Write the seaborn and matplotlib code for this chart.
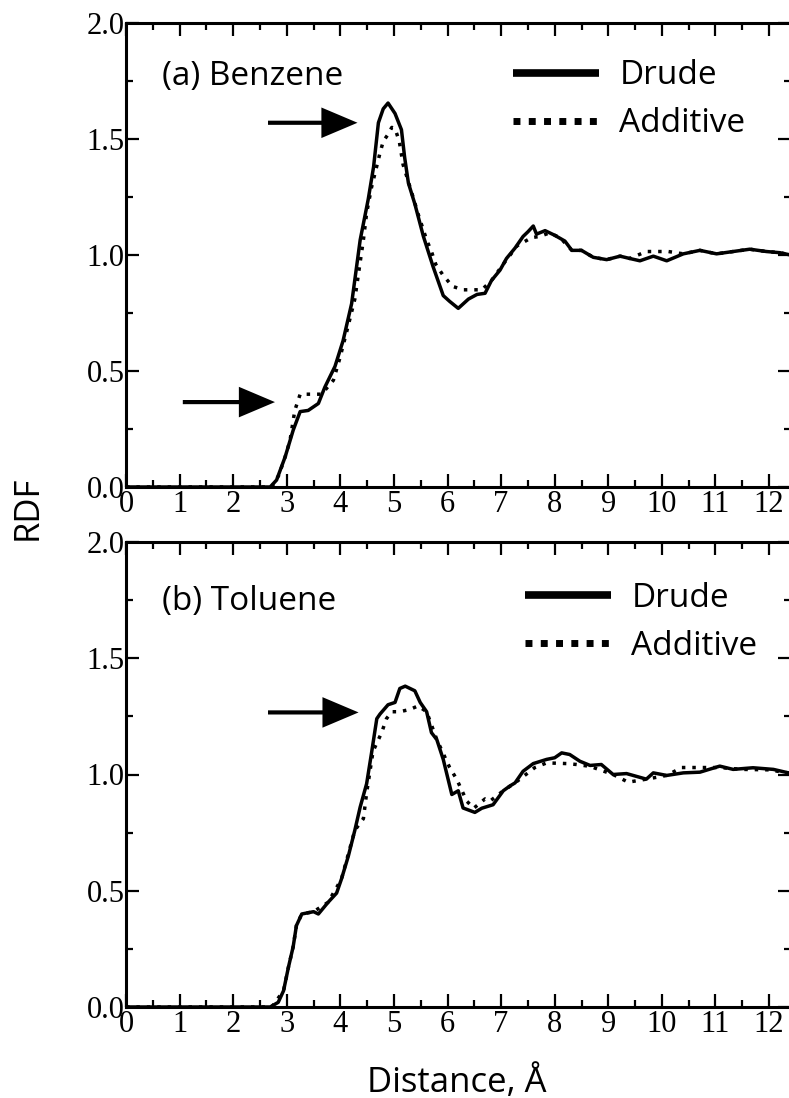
import seaborn as sns
import matplotlib.pyplot as plt
from matplotlib.lines import Line2D
from matplotlib.ticker import MultipleLocator, FormatStrFormatter

# values (distance in angstrom, RDF)
benz_drude_x = [0, 2.69, 2.81, 2.97, 3.12, 3.25, 3.40, 3.59, 3.71, 3.90, 4.05, 4.21, 4.37, 4.52,
                4.62, 4.71, 4.80, 4.89, 5.02, 5.14, 5.20, 5.27, 5.39, 5.55, 5.73, 5.92, 6.04, 6.20,
                6.39, 6.55, 6.70, 6.82, 6.98, 7.10, 7.26, 7.41, 7.50, 7.60, 7.66, 7.82, 8.00, 8.19,
                8.32, 8.50, 8.72, 8.97, 9.22, 9.40, 9.59, 9.84, 10.09, 10.40, 10.71, 11.02, 11.33,
                11.64, 11.95, 12.20, 12.40]
benz_drude_y = [0, 0, 0.03, 0.13, 0.245, 0.325, 0.33, 0.36, 0.43, 0.52, 0.63, 0.79, 1.065, 1.24,
                1.38, 1.57, 1.63, 1.655, 1.61, 1.54, 1.42, 1.31, 1.22, 1.08, 0.95, 0.825, 0.80, 0.77,
                0.81, 0.83, 0.835, 0.89, 0.935, 0.985, 1.03, 1.08, 1.10, 1.125, 1.09, 1.105, 1.085, 1.06,
                1.02, 1.02, 0.99, 0.98, 0.995, 0.985, 0.975, 0.995, 0.975, 1.005, 1.02, 1.005, 1.015,
                1.025, 1.015, 1.01, 1.00]

benz_add_x = [0, 2.72, 2.85, 2.97, 3.06, 3.15, 3.25, 3.46, 3.65, 3.87, 3.99, 4.13, 4.27, 4.37,
              4.43, 4.49, 4.58, 4.66, 4.74, 4.80, 4.89, 4.96, 5.02, 5.10, 5.17, 5.33, 5.46, 5.61,
              5.70, 5.78, 5.91, 6.09, 6.29, 6.48, 6.64, 6.82, 7.07, 7.30, 7.57, 7.72, 7.90, 8.10,
              8.32, 8.50, 8.72, 8.97, 9.22, 9.40, 9.71, 10.12, 10.40, 10.71, 11.02, 11.33, 11.64,
              11.95, 12.20, 12.40]
benz_add_y = [0, 0, 0.05, 0.13, 0.20, 0.33, 0.40, 0.40, 0.40, 0.46, 0.555, 0.68, 0.81, 0.97,
              1.065, 1.18, 1.29, 1.365, 1.44, 1.49, 1.52, 1.55, 1.545, 1.49, 1.39, 1.27, 1.17, 1.065,
              1.015, 0.96, 0.915, 0.865, 0.85, 0.85, 0.85, 0.89, 0.97, 1.04, 1.075, 1.08, 1.095, 1.075,
              1.02, 1.02, 0.99, 0.98, 0.995, 0.985, 1.015, 1.015, 1.005, 1.02, 1.005, 1.015, 1.025,
              1.015, 1.01, 1.00]

tol_drude_x = [0, 2.69, 2.84, 2.94, 3.03, 3.12, 3.18, 3.28, 3.50, 3.59, 3.77, 3.93, 4.02, 4.15,
               4.27, 4.37, 4.49, 4.58, 4.68, 4.74, 4.89, 5.02, 5.11, 5.21, 5.39, 5.49, 5.61, 5.70,
               5.80, 5.92, 6.08, 6.20, 6.29, 6.51, 6.64, 6.85, 7.04, 7.16, 7.26, 7.41, 7.60, 7.85,
               8.00, 8.13, 8.28, 8.47, 8.66, 8.87, 9.09, 9.34, 9.71, 9.84, 10.09, 10.40, 10.71,
               11.08, 11.33, 11.70, 12.08, 12.40]
tol_drude_y = [0, 0, 0.02, 0.07, 0.17, 0.26, 0.35, 0.40, 0.41, 0.40, 0.45, 0.49, 0.55, 0.65,
               0.76, 0.86, 0.96, 1.09, 1.24, 1.26, 1.30, 1.31, 1.37, 1.38, 1.36, 1.31, 1.27, 1.18,
               1.15, 1.065, 0.914, 0.93, 0.856, 0.837, 0.855, 0.87, 0.93, 0.95, 0.964, 1.014, 1.047, 1.065,
               1.072, 1.093, 1.086, 1.057, 1.039, 1.043, 1.0, 1.004, 0.98, 1.007, 0.996, 1.007, 1.01,
               1.036, 1.022, 1.029, 1.022, 1.005]

tol_add_x = [0, 2.72, 2.94, 3.03, 3.12, 3.18, 3.28, 3.50, 3.77, 4.02, 4.27, 4.43, 4.49, 4.61,
             4.77, 4.86, 4.96, 5.11, 5.30, 5.45, 5.61, 5.80, 6.04, 6.17, 6.36, 6.49, 6.70, 6.79,
             7.04, 7.26, 7.63, 7.85, 8.22, 8.41, 8.66, 9.09, 9.37, 9.71, 10.09, 10.37, 10.56,
             11.08, 11.50, 12.00, 12.40]
tol_add_y = [0, 0, 0.07, 0.17, 0.26, 0.35, 0.40, 0.41, 0.45, 0.55, 0.76, 0.81, 0.92, 1.10,
             1.18, 1.24, 1.27, 1.27, 1.28, 1.295, 1.27, 1.15, 1.03, 0.98, 0.885, 0.855, 0.895, 0.885,
             0.93, 0.964, 1.03, 1.05, 1.047, 1.043, 1.035, 1.0, 0.967, 0.98, 0.996, 1.03, 1.03,
             1.03, 1.022, 1.02, 1.005]

sns.set_style('ticks')
plt.rcParams['font.family'] = ['Liberation Serif', 'DejaVu Serif']
plt.rcParams['text.color'] = 'black'
plt.rcParams['xtick.color'] = 'black'
plt.rcParams['ytick.color'] = 'black'
SANS = ['Open Sans', 'DejaVu Sans']

W, H = 789, 1098
fig = plt.figure(figsize=(W / 100, H / 100), dpi=100)


def px_axes(x0, y0, x1, y1):
    return fig.add_axes([x0 / W, 1 - y1 / H, (x1 - x0) / W, (y1 - y0) / H])


def style(ax):
    ax.set_xlim(0, 12.4)
    ax.set_ylim(0, 2.0)
    ax.xaxis.set_major_locator(MultipleLocator(1))
    ax.xaxis.set_minor_locator(MultipleLocator(0.5))
    ax.yaxis.set_major_locator(MultipleLocator(0.5))
    ax.yaxis.set_minor_locator(MultipleLocator(0.25))
    ax.yaxis.set_major_formatter(FormatStrFormatter('%.1f'))
    ax.tick_params(which='both', direction='in', top=True, right=True, width=1.6,
                   labelsize=22, pad=2, colors='black')
    ax.tick_params(axis='y', pad=1)
    ax.tick_params(which='major', length=9.5)
    ax.tick_params(which='minor', length=5)
    for s in ax.spines.values():
        s.set_linewidth(2.2)
        s.set_color('black')
    ax.set_xlabel('')
    ax.set_ylabel('')


def panel(ax, ax_, ay_, dx, dy, label, ly, legx, legy, arrows):
    sns.lineplot(x=ax_, y=ay_, ax=ax, color='black', lw=2.5, linestyle=(0, (1, 2)),
                 estimator=None, sort=False)
    sns.lineplot(x=dx, y=dy, ax=ax, color='black', lw=2.5, estimator=None, sort=False)
    style(ax)
    ax.text(0.67, ly, label, ha='left', va='center', fontsize=24, family=SANS, color='black')
    handles = [Line2D([], [], color='black', lw=5.5, solid_capstyle='butt'),
               Line2D([], [], color='black', lw=5, linestyle=(0, (1, 1.2)))]
    ax.legend(handles, ['Drude', 'Additive'], loc='upper left', bbox_to_anchor=(legx, legy),
              frameon=False, prop={'family': SANS, 'size': 24}, handlelength=2.6,
              handletextpad=0.6, labelspacing=0.45, borderpad=0, borderaxespad=0)
    for x0, x1, y in arrows:
        ax.annotate('', xy=(x1, y), xytext=(x0, y),
                    arrowprops=dict(arrowstyle='simple,head_length=1.3,head_width=1.1,tail_width=0.15',
                                    mutation_scale=20, lw=0, color='black',
                                    shrinkA=0, shrinkB=0))


ax_top = px_axes(126, 23, 790.5, 487)
ax_bot = px_axes(126, 542, 790.5, 1007)

panel(ax_top, benz_add_x, benz_add_y, benz_drude_x, benz_drude_y, '(a) Benzene', 1.77,
      0.582, 0.922, [(2.65, 4.32, 1.57), (1.06, 2.78, 0.366)])
panel(ax_bot, tol_add_x, tol_add_y, tol_drude_x, tol_drude_y, '(b) Toluene', 1.745,
      0.600, 0.914, [(2.65, 4.34, 1.267)])

fig.text(28 / W, 1 - 508 / H, 'RDF', rotation=90, ha='center', va='center',
         fontsize=25, family=SANS)
fig.text(457 / W, 1 - 1092 / H, 'Distance, Å', ha='center', va='baseline',
         fontsize=25, family=SANS)

fig.savefig('out.png', dpi=100)
